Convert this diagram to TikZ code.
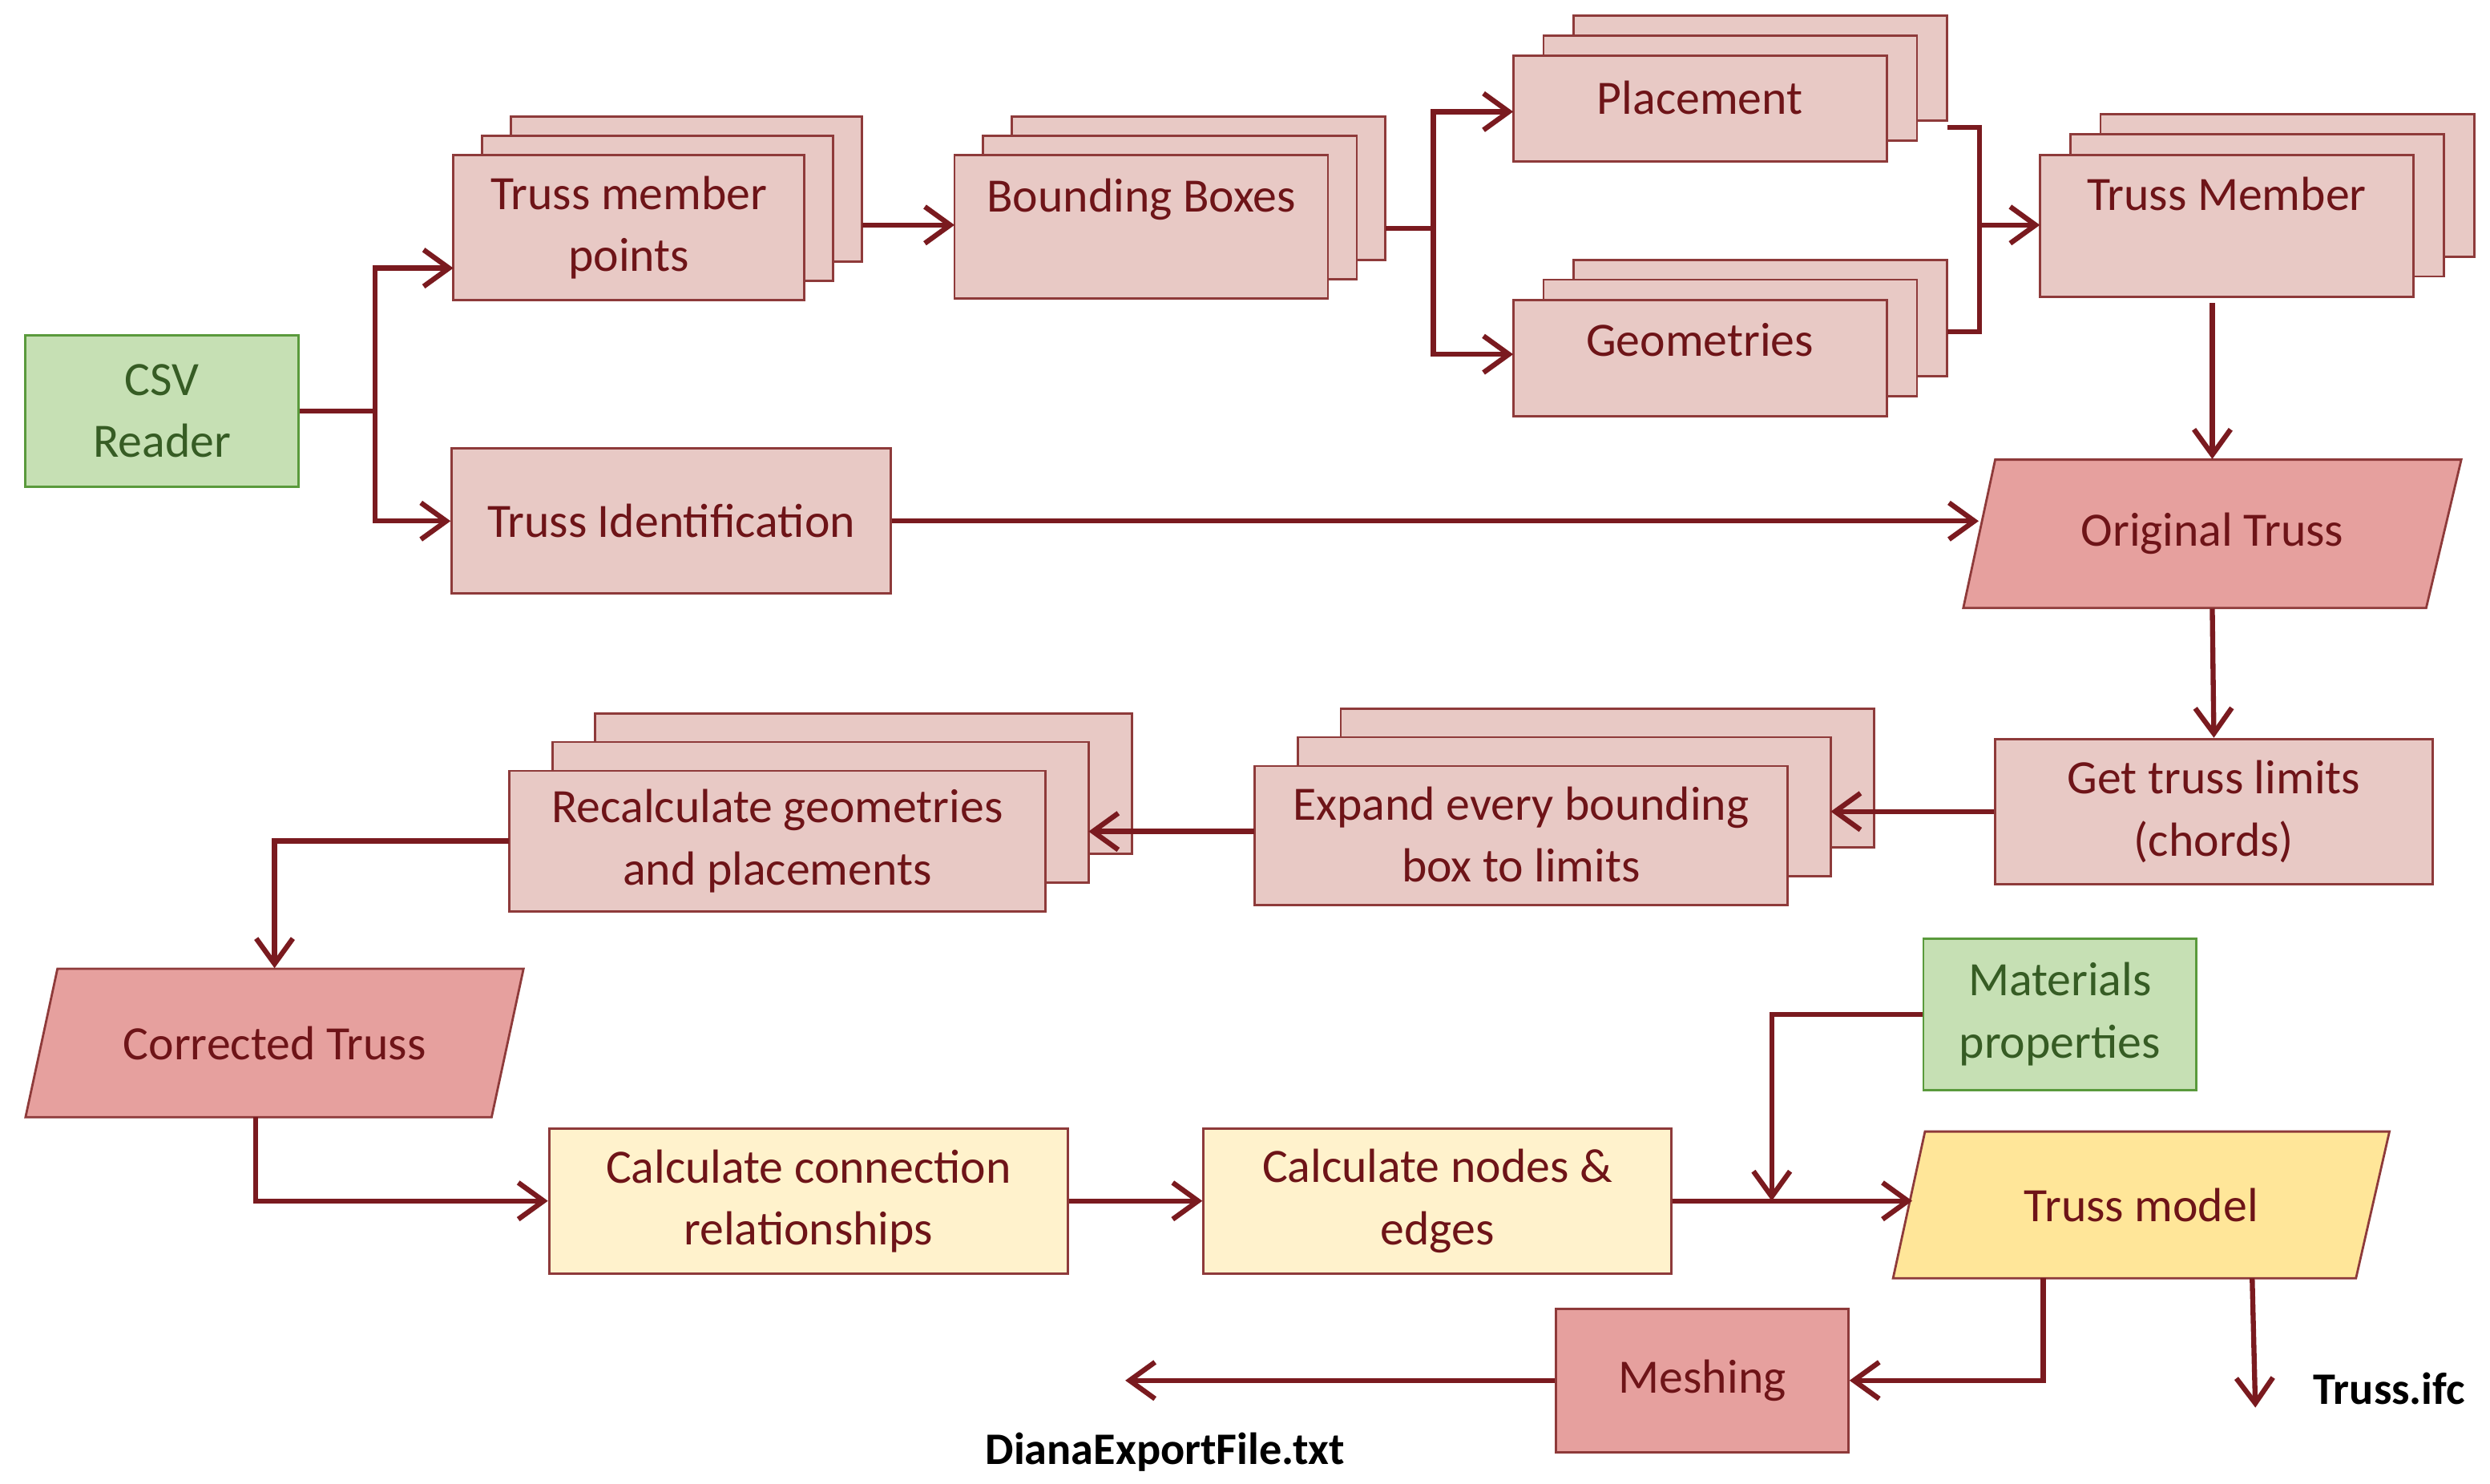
\documentclass[tikz,border=0pt]{standalone}
\usepackage{fontspec}
\setmainfont{Carlito}
\usetikzlibrary{arrows.meta}
\definecolor{ln}{HTML}{7A1A1F}
\definecolor{tx}{HTML}{6E1418}
\definecolor{pk}{HTML}{E8C9C5}
\definecolor{pkb}{HTML}{8E3A3A}
\definecolor{gr}{HTML}{C6E0B4}
\definecolor{grb}{HTML}{5A9A3C}
\definecolor{rd}{HTML}{E6A09E}
\definecolor{yl}{HTML}{FFF2CC}
\definecolor{yd}{HTML}{FFE699}
\newlength\uu \setlength\uu{0.019917cm}
\begin{document}
\begin{tikzpicture}[x=\uu,y=-\uu,
  box/.style={draw=pkb,line width=0.8pt,fill=pk,text=tx,align=center,font=\fontsize{17}{22}\selectfont,inner sep=0pt},
  grn/.style={box,fill=gr,draw=grb,text=grb!60!black},
  ylw/.style={box,fill=yl},
  txt/.style={text=tx,align=center,font=\fontsize{17}{22}\selectfont,inner sep=0pt},
  ar/.style={draw=ln,line width=1.8pt,-{Straight Barb[length=9pt,width=13pt,line width=1.8pt]}},
  ln/.style={draw=ln,line width=1.8pt}]
\useasboundingbox (0,0) rectangle (1560,929.4);
\newcommand\stk[6]{%
  \draw[box,shift={(#6*2,-#6*1.33)}] (#2,#3) rectangle (#4,#5);
  \draw[box,shift={(#6,-#6*0.67)}] (#2,#3) rectangle (#4,#5);
  \draw[box] (#2,#3) rectangle (#4,#5);}
% stacks
\stk{a}{284}{97}{504}{188}{18}
\node[txt] (tmp) at (394,142.5) {Truss member\\points};
\stk{b}{598}{97}{832}{187}{18}
\node[txt] (bb) at (715,142) {Bounding Boxes\\\phantom{x}};
\stk{c}{948}{35}{1182}{101}{19}
\node[txt] (pl) at (1065,61) {Placement};
\stk{d}{948}{188}{1182}{261}{19}
\node[txt] (ge) at (1065,213) {Geometries};
\stk{e}{1278}{97}{1512}{186}{19}
\node[txt] (tm) at (1395,141) {Truss Member\\\phantom{x}};
\stk{f}{786}{480}{1120}{567}{27}
\node[txt] (ex) at (953,523) {Expand every bounding\\box to limits};
\stk{g}{319}{483}{655}{571}{27}
\node[txt] (rc) at (487,527) {Recalculate geometries\\and placements};
% single boxes
\node[grn,minimum width=171\uu,minimum height=95\uu] (csv) at (101.5,257.5) {CSV\\Reader};
\node[box,minimum width=275\uu,minimum height=91\uu] (ti) at (420.5,326.5) {Truss Identification};
\node[box,minimum width=274\uu,minimum height=91\uu] (gt) at (1387,508.5) {Get truss limits\\(chords)};
\node[ylw,minimum width=325\uu,minimum height=91\uu] (cc) at (506.5,752.5) {Calculate connection\\relationships};
\node[ylw,minimum width=293\uu,minimum height=91\uu] (cn) at (900.5,752.5) {Calculate nodes \&\\edges};
\node[grn,minimum width=171\uu,minimum height=95\uu] (mp) at (1290.5,635.5) {Materials\\properties};
\node[box,fill=rd,minimum width=183\uu,minimum height=90\uu] (me) at (1066.5,865) {Meshing};
% parallelograms
\draw[box,fill=rd] (1250,288) -- (1542,288) -- (1520,381) -- (1230,381) -- cycle;
\node[txt,minimum width=292\uu,minimum height=93\uu] (ot) at (1386,334.5) {Original Truss};
\draw[box,fill=rd] (36,607) -- (328,607) -- (308,700) -- (16,700) -- cycle;
\node[txt,minimum width=292\uu,minimum height=93\uu] (ct) at (172,653.5) {Corrected Truss};
\draw[box,fill=yd] (1206,709) -- (1497,709) -- (1476,801) -- (1186,801) -- cycle;
\node[txt,minimum width=291\uu,minimum height=92\uu] (tmo) at (1341.5,755) {Truss model};
% output texts
\node[font=\bfseries\fontsize{16}{20}\selectfont,inner sep=0pt] (ifc) at (1497,870) {Truss.ifc};
\node[font=\bfseries\fontsize{16}{20}\selectfont,inner sep=0pt] (dia) at (730,910) {DianaExportFile.txt};
\coordinate (dend) at (705,865);
\coordinate (iend) at (1413,882);
% connectors
\draw[ln] (csv.east) -- (235,257.5);
\draw[ar] (235,257.5) -- (235,168) -- (284,168);
\draw[ar] (235,257.5) |- (ti.west);
\draw[ar] (540,141) -- (598,141);
\draw[ln] (868,143) -- (898,143);
\draw[ar] (898,143) -- (898,70) -- (948,70);
\draw[ar] (898,143) -- (898,222) -- (948,222);
\draw[ln] (1220,80) -| (1240,208) -- (1220,208);
\draw[ar] (1240,141) -- (1278,141);
\draw[ar] (1386,190) -- (ot.north);
\draw[ar] (ti.east) -- (ti.east -| ot.west);
\draw[ar] (ot.south) -- (gt.north);
\draw[ar] (gt.west) -- (1147,508.5);
\draw[ar] (786,521) -- (682,521);
\draw[ar] (319,527) -| (ct.north);
\draw[ar] (160,700) |- (cc.west);
\draw[ar] (cc.east) -- (cn.west);
\draw[ar] (cn.east) -- (1198,752.5);
\draw[ar] (mp.west) -| (1110,752.5);
\draw[ar] (1280,801) |- (me.east);
\draw[ar] (me.west) -- (dend);
\draw[ar] (1411,801) -- (iend);
\end{tikzpicture}
\end{document}
